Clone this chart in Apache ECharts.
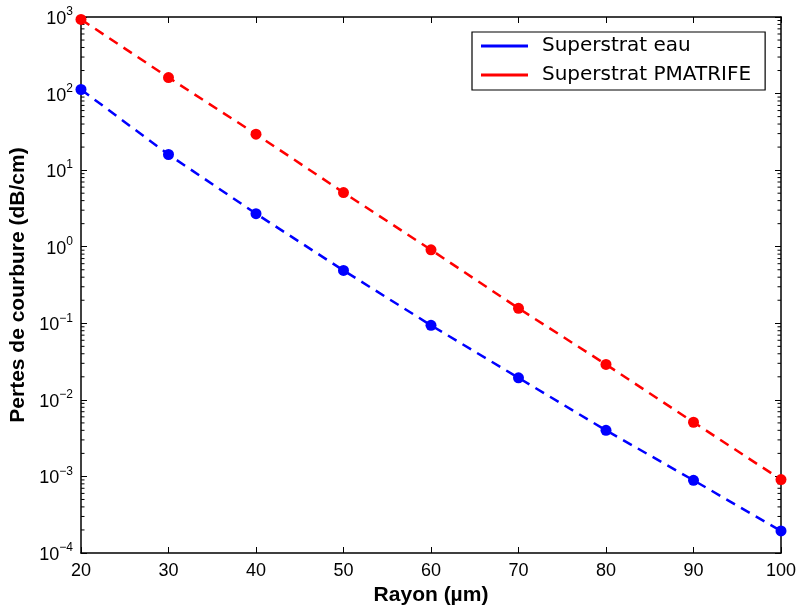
<!DOCTYPE html>
<html><head><meta charset="utf-8">
<script src="https://cdn.jsdelivr.net/npm/echarts@6/dist/echarts.min.js"></script>
<style>html,body{margin:0;padding:0;background:#fff}#c{width:796px;height:608px}</style>
</head><body><div id="c"></div>
<script>
const radius = [20, 30, 40, 50, 60, 70, 80, 90, 100];
const lossEau = [113, 16, 2.7, 0.49, 0.094, 0.0194, 0.0040, 0.00089, 0.000194];
const lossPmatrife = [930, 162, 29.5, 5.1, 0.91, 0.157, 0.029, 0.0051, 0.00091];
const nameEau = 'Superstrat eau';
const namePmatrife = 'Superstrat PMATRIFE';
const decadeExponents = [-4, -3, -2, -1, 0, 1, 2];
const minorMultipliers = [2, 3, 4, 5, 6, 7, 8, 9];

const FONT = 'Liberation Sans';
const zip = (a, b) => a.map((v, i) => [v, b[i]]);
const minorTickValues = [];
decadeExponents.forEach(e => minorMultipliers.forEach(m => minorTickValues.push([m * Math.pow(10, e)])));
const supFmt = v => {
  const e = Math.round(Math.log10(v));
  return '{b|10}{s|' + (e < 0 ? '\u2212' + (-e) : e) + '}';
};
const chart = echarts.init(document.getElementById('c'));
const yCommon = {
  type: 'log', logBase: 10, min: 1e-4, max: 1e3,
  axisLine: {show: true, onZero: false, lineStyle: {color: '#000', width: 1.5}},
  axisTick: {show: true, inside: true, length: 6, lineStyle: {color: '#000'}},
  splitLine: {show: false}
};
const xCommon = {
  type: 'value', min: 20, max: 100, interval: 10,
  axisLine: {show: true, onZero: false, lineStyle: {color: '#000', width: 1.5}},
  axisTick: {show: true, inside: true, length: 6, lineStyle: {color: '#000'}},
  splitLine: {show: false}
};
chart.setOption({
  animation: false,
  backgroundColor: '#fff',
  grid: {left: 81, right: 15, top: 17, bottom: 55, containLabel: false, outerBoundsMode: 'none'},
  xAxis: [
    Object.assign({}, xCommon, {
      position: 'bottom',
      name: 'Rayon (\u00b5m)', nameLocation: 'middle', nameGap: 29,
      nameTextStyle: {fontFamily: FONT, fontSize: 21, fontWeight: 'bold', color: '#000'},
      axisLabel: {fontFamily: FONT, fontSize: 18, color: '#000', margin: 9}
    }),
    Object.assign({}, xCommon, {position: 'top', axisLabel: {show: false}})
  ],
  yAxis: [
    Object.assign({}, yCommon, {
      position: 'left',
      name: 'Pertes de courbure (dB/cm)', nameLocation: 'middle', nameGap: 49,
      nameTextStyle: {fontFamily: FONT, fontSize: 21, fontWeight: 'bold', color: '#000'},
      axisLabel: {
        color: '#000', margin: 8, formatter: supFmt,
        rich: {
          b: {fontFamily: FONT, fontSize: 18, color: '#000', verticalAlign: 'bottom'},
          s: {fontFamily: FONT, fontSize: 12, color: '#000', verticalAlign: 'top', padding: [0, 0, 10, 0]}
        }
      }
    }),
    Object.assign({}, yCommon, {position: 'right', axisLabel: {show: false}})
  ],
  legend: {
    orient: 'vertical', left: 472, top: 32,
    data: [nameEau, namePmatrife],
    itemWidth: 47, itemHeight: 3, itemGap: 9,
    padding: [4, 14, 5, 9],
    borderColor: '#000', borderWidth: 1.2, backgroundColor: '#fff',
    icon: 'rect',
    textStyle: {fontFamily: 'DejaVu Sans', fontSize: 20, color: '#000', padding: [0, 0, 0, 9]}
  },
  series: [
    {name: nameEau, type: 'line', data: zip(radius, lossEau), symbol: 'none', color: '#0000ff',
     lineStyle: {color: '#0000ff', width: 2.5, type: [10, 7]}},
    {name: namePmatrife, type: 'line', data: zip(radius, lossPmatrife), symbol: 'none', color: '#ff0000',
     lineStyle: {color: '#ff0000', width: 2.5, type: [10, 7]}},
    {name: 'pts eau', type: 'scatter', data: zip(radius, lossEau), symbolSize: 11,
     itemStyle: {color: '#0000ff', opacity: 1}, z: 5},
    {name: 'pts pmatrife', type: 'scatter', data: zip(radius, lossPmatrife), symbolSize: 11,
     itemStyle: {color: '#ff0000', opacity: 1}, z: 5},
    {name: 'minor ticks', type: 'custom', silent: true, clip: false, z: 1,
     encode: {y: 0},
     data: minorTickValues,
     renderItem: (params, api) => {
       const v = api.value(0);
       const p = api.coord([20, v]);
       const q = api.coord([100, v]);
       const st = {stroke: '#000', lineWidth: 1};
       return {type: 'group', children: [
         {type: 'line', shape: {x1: p[0], y1: p[1], x2: p[0] + 3.5, y2: p[1]}, style: st},
         {type: 'line', shape: {x1: q[0] - 3.5, y1: q[1], x2: q[0], y2: q[1]}, style: st}
       ]};
     }}
  ]
});
</script></body></html>
